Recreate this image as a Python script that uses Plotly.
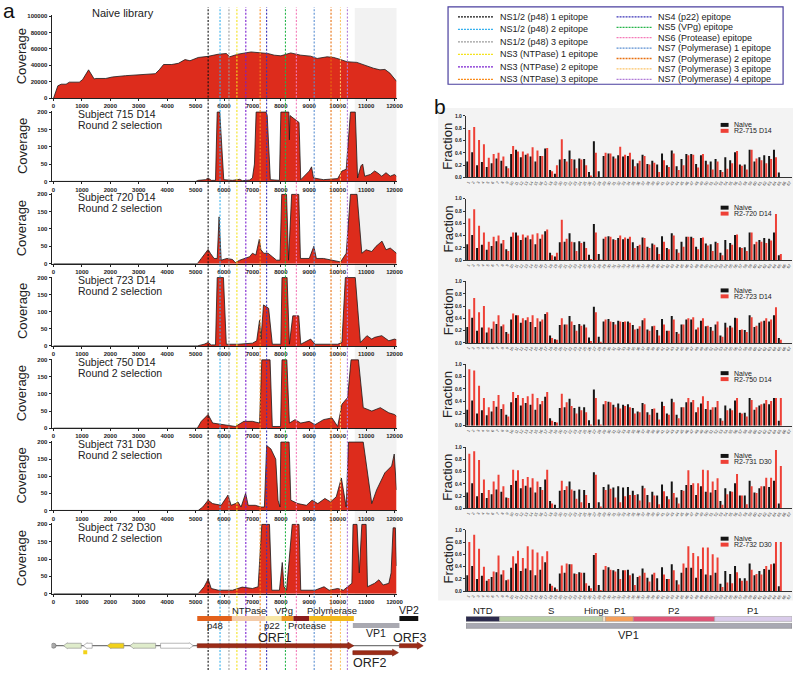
import plotly.graph_objects as go

W, H = 800, 673


def fx(p):
    return p / W


def fy(p):
    return 1 - p / H


# ---------------- Panel a : coverage data ----------------
naive_lib_pos = [0, 151, 267, 442, 558, 907, 1023, 1140, 1233, 1430, 1488, 1837, 2070, 2535, 3116, 3581,
                 3721, 3872, 4163, 4395, 4628, 4802, 5093, 5442, 5791, 6081, 6198, 6488, 6953, 7302, 7535,
                 7767, 8000, 8349, 8698, 9047, 9279, 9628, 9860, 10093, 10326, 10674, 10907, 11256, 11488,
                 11663, 11837, 12070]
naive_lib_cov = [0, 15000, 17000, 17000, 19500, 19500, 22600, 28500, 34500, 23400, 24000, 24000, 25800,
                 27400, 29000, 29800, 34500, 41000, 41000, 42500, 47000, 45600, 49600, 51000, 53500, 54400,
                 50400, 53600, 56300, 55600, 54500, 52400, 51600, 55100, 52400, 51200, 48400, 50400, 49600,
                 47200, 44400, 43600, 40500, 36500, 34500, 35000, 30500, 20600]

s715_pos = [0, 5000, 5100, 5350, 5440, 5550, 5700, 5760, 5850, 5990, 6300, 6550, 6650, 6900, 7000, 7070,
            7130, 7480, 7520, 7630, 7950, 8000, 8280, 8300, 8320, 8640, 8700, 9000, 9080, 9150, 9500,
            10000, 10150, 10300, 10450, 10620, 10700, 10820, 10880, 10950, 11150, 11300, 11400, 11550,
            11700, 11850, 12000, 12070]
s715_cov = [0, 0, 3, 5, 10, 3, 3, 200, 200, 5, 3, 6, 2, 4, 10, 50, 200, 200, 190, 5, 3, 200, 200, 120, 190,
            170, 5, 30, 42, 10, 5, 8, 30, 35, 200, 200, 10, 45, 50, 15, 20, 30, 25, 15, 25, 15, 20, 15]

s720_pos = [0, 5060, 5200, 5330, 5440, 5520, 5650, 5760, 5826, 5900, 6100, 6300, 6400, 6550, 6750, 6900,
            7000, 7120, 7240, 7300, 7400, 7550, 7700, 7850, 7970, 8030, 8200, 8270, 8380, 8630, 8690, 9000,
            9160, 9250, 9500, 9800, 10100, 10300, 10450, 10680, 10850, 11000, 11200, 11350, 11560, 11700,
            11850, 12000, 12070]
s720_cov = [0, 0, 15, 31, 41, 30, 15, 15, 135, 10, 15, 12, 3, 10, 15, 20, 30, 25, 70, 40, 30, 30, 20, 10,
            10, 200, 200, 10, 200, 200, 15, 15, 50, 15, 15, 10, 5, 30, 200, 200, 30, 40, 35, 50, 65, 40,
            45, 35, 30]

s723_pos = [0, 5060, 5300, 5440, 5550, 5700, 5760, 5980, 6080, 6500, 7000, 7150, 7250, 7300, 7390, 7570,
            7700, 8000, 8040, 8220, 8300, 8420, 8630, 8700, 9050, 9200, 10000, 10150, 10270, 10620, 10800,
            11030, 11200, 11300, 11550, 11800, 12000, 12070]
s723_cov = [0, 0, 5, 10, 3, 3, 200, 200, 5, 5, 8, 15, 75, 20, 120, 110, 5, 5, 200, 200, 5, 88, 88, 5, 20,
            5, 5, 10, 200, 200, 10, 30, 20, 25, 30, 15, 20, 18]

s750_pos = [0, 5060, 5200, 5440, 5600, 6000, 6400, 6700, 7000, 7250, 7330, 7620, 7700, 7990, 8040, 8210,
            8300, 8500, 8700, 9000, 9200, 9500, 9800, 10000, 10150, 10350, 10470, 10730, 10900, 11200,
            11500, 11800, 12000, 12070]
s750_cov = [0, 0, 20, 40, 15, 10, 5, 20, 20, 15, 200, 200, 5, 5, 200, 200, 15, 25, 15, 20, 10, 25, 30, 5,
            70, 90, 200, 200, 60, 50, 60, 45, 40, 35]

s731_pos = [0, 5090, 5250, 5440, 5600, 5900, 6140, 6250, 6400, 6490, 6600, 6760, 6850, 7100, 7300, 7420,
            7500, 7650, 7820, 7900, 7970, 8000, 8290, 8350, 8600, 8900, 9100, 9300, 9550, 9750, 9950,
            10130, 10300, 10380, 10900, 11200, 11370, 11490, 11660, 11900, 11990, 12070]
s731_cov = [0, 0, 10, 30, 20, 15, 45, 15, 20, 25, 10, 50, 15, 15, 10, 10, 190, 180, 150, 30, 10, 200, 200,
            30, 20, 15, 30, 20, 35, 25, 40, 95, 10, 200, 200, 20, 60, 80, 110, 130, 165, 60]

s732_pos = [0, 5090, 5300, 5440, 5550, 5800, 6300, 6640, 7000, 7200, 7330, 7600, 7680, 7950, 8050, 8110,
            8200, 8400, 8640, 8700, 9200, 9520, 9700, 10000, 10200, 10500, 10540, 10680, 10760, 10850,
            11000, 11050, 11300, 11450, 11600, 11800, 11880, 11950, 12030, 12070]
s732_cov = [0, 0, 20, 42, 15, 10, 10, 19, 15, 20, 200, 200, 10, 10, 90, 20, 10, 200, 200, 10, 10, 20, 10,
            15, 10, 30, 200, 200, 60, 200, 200, 20, 30, 40, 25, 30, 60, 190, 190, 80]

subject_titles = ["Subject 715 D14", "Subject 720 D14", "Subject 723 D14",
                  "Subject 750 D14", "Subject 731 D30", "Subject 732 D30"]
round_label = "Round 2 selection"
naive_title = "Naive library"
cov_ticks_naive = [0, 20000, 40000, 60000, 80000, 100000]
cov_ticks_subj = [0, 50, 100, 150, 200]
genome_ticks = [0, 1000, 2000, 3000, 4000, 5000, 6000, 7000, 8000, 9000, 10000, 11000, 12000]

epitope_names = ["NS1/2 (p48) 1 epitope", "NS1/2 (p48) 2 epitope", "NS1/2 (p48) 3 epitope",
                 "NS3 (NTPase) 1 epitope", "NS3 (NTPase) 2 epitope", "NS3 (NTPase) 3 epitope",
                 "NS4 (p22) epitope", "NS5 (VPg) epitope", "NS6 (Protease) epitope",
                 "NS7 (Polymerase) 1 epitope", "NS7 (Polymerase) 2 epitope",
                 "NS7 (Polymerase) 3 epitope", "NS7 (Polymerase) 4 epitope"]
epitope_pos = [5441, 5860, 6174, 6453, 6767, 7272, 7499, 8162, 8546, 9173, 9766, 10098, 10342]
epitope_colors = ["#111111", "#34b0ee", "#9c9c9c", "#f4e21c", "#7a1fd0", "#fa8a18", "#3b33b8",
                  "#25b54a", "#f57ab8", "#5a8fd2", "#e8700f", "#fcc468", "#b07ad8"]

# genome organisation (nt)
domain_names = ["p48", "NTPase", "p22", "VPg", "Protease", "Polymerase"]
domain_start = [5058, 6278, 7464, 8022, 8441, 8999]
domain_end = [6278, 7464, 8022, 8441, 8999, 10568]
domain_colors = ["#e3611c", "#f4cba8", "#f8e7a6", "#ef9a22", "#8a1c1c", "#f3b91c"]
vp_names = ["VP1", "VP2"]
vp_start = [10534, 12173]
vp_end = [12173, 12836]
vp_colors = ["#a9a9b1", "#111111"]
orf_names = ["ORF1", "ORF2", "ORF3"]
orf_start = [5058, 10534, 12173]
orf_end = [10568, 12138, 13010]
vector_feat_start = [349, 1046, 1884, 2686, 3767]
vector_feat_end = [977, 1360, 2476, 3593, 4918]
vector_feat_dir = [-1, -1, -1, -1, 1]
vector_feat_colors = ["#dfeccb", "#ffffff", "#f2d21a", "#dfeccb", "#ffffff"]

# ---------------- Panel b : fraction data ----------------
peptide_labels = [str(i) for i in range(1, 68)]
naive_frac = [0.26, 0.41, 0.20, 0.25, 0.17, 0.23, 0.31, 0.27, 0.18, 0.38,
              0.45, 0.33, 0.37, 0.34, 0.26, 0.35, 0.47, 0.12, 0.06, 0.29,
              0.30, 0.44, 0.29, 0.31, 0.30, 0.09, 0.59, 0.10, 0.35, 0.39,
              0.34, 0.36, 0.34, 0.35, 0.29, 0.23, 0.37, 0.22, 0.27, 0.21,
              0.39, 0.20, 0.44, 0.18, 0.30, 0.38, 0.38, 0.22, 0.36, 0.27,
              0.26, 0.30, 0.12, 0.33, 0.28, 0.41, 0.21, 0.21, 0.45, 0.26,
              0.33, 0.36, 0.35, 0.45, 0.08, None, None]
r715 = [0.77, 0.82, 0.61, 0.54, 0.32, 0.38, 0.40, 0.34, 0.15, 0.51,
        0.42, 0.42, 0.39, 0.49, 0.44, 0.35, 0.48, 0.10, 0.20, 0.62,
        0.26, 0.30, 0.15, 0.29, 0.20, 0.03, 0.40, 0.00, 0.40, 0.39,
        0.31, 0.50, 0.37, 0.40, 0.18, 0.27, 0.35, 0.21, 0.24, 0.09,
        0.28, 0.17, 0.39, 0.12, 0.20, 0.36, 0.37, 0.16, 0.38, 0.21,
        0.13, 0.26, 0.09, 0.14, 0.23, 0.43, 0.19, 0.13, 0.45, 0.31,
        0.28, 0.23, 0.30, 0.33, 0.00, None, None]
r720 = [0.68, 0.83, 0.56, 0.45, 0.30, 0.38, 0.40, 0.33, 0.15, 0.45,
        0.40, 0.42, 0.40, 0.42, 0.44, 0.42, 0.50, 0.08, 0.12, 0.66,
        0.35, 0.30, 0.15, 0.28, 0.20, 0.02, 0.45, 0.01, 0.38, 0.38,
        0.33, 0.40, 0.37, 0.38, 0.20, 0.25, 0.36, 0.20, 0.25, 0.10,
        0.30, 0.18, 0.40, 0.12, 0.22, 0.38, 0.36, 0.18, 0.37, 0.24,
        0.15, 0.28, 0.08, 0.18, 0.25, 0.42, 0.20, 0.15, 0.45, 0.30,
        0.30, 0.28, 0.32, 0.75, 0.10, None, None]
r723 = [0.55, 0.73, 0.50, 0.60, 0.25, 0.35, 0.45, 0.30, 0.15, 0.48,
        0.45, 0.40, 0.42, 0.45, 0.40, 0.38, 0.50, 0.08, 0.05, 0.40,
        0.30, 0.35, 0.20, 0.28, 0.25, 0.03, 0.50, 0.02, 0.38, 0.35,
        0.30, 0.35, 0.35, 0.33, 0.22, 0.27, 0.40, 0.20, 0.28, 0.12,
        0.30, 0.20, 0.38, 0.15, 0.30, 0.40, 0.42, 0.25, 0.40, 0.28,
        0.20, 0.35, 0.10, 0.25, 0.25, 0.40, 0.22, 0.18, 0.42, 0.28,
        0.35, 0.40, 0.38, 0.58, 0.05, None, None]
r750 = [0.92, 0.90, 0.65, 0.45, 0.30, 0.40, 0.50, 0.35, 0.15, 0.55,
        0.50, 0.45, 0.48, 0.52, 0.45, 0.40, 0.55, 0.08, 0.05, 0.52,
        0.38, 0.32, 0.20, 0.25, 0.22, 0.02, 0.45, 0.02, 0.40, 0.38,
        0.30, 0.28, 0.32, 0.30, 0.20, 0.22, 0.35, 0.18, 0.28, 0.10,
        0.32, 0.18, 0.38, 0.12, 0.30, 0.45, 0.42, 0.30, 0.48, 0.40,
        0.30, 0.40, 0.08, 0.25, 0.25, 0.45, 0.20, 0.15, 0.42, 0.30,
        0.35, 0.42, 0.40, 0.45, 0.45, None, None]
r731 = [0.89, 0.93, 0.79, 0.47, 0.30, 0.44, 0.55, 0.36, 0.17, 0.63,
        0.62, 0.48, 0.51, 0.49, 0.44, 0.30, 0.63, 0.08, 0.00, 0.45,
        0.36, 0.31, 0.16, 0.10, 0.22, 0.00, 0.55, 0.03, 0.30, 0.32,
        0.18, 0.10, 0.20, 0.22, 0.22, 0.13, 0.33, 0.10, 0.21, 0.07,
        0.28, 0.15, 0.25, 0.08, 0.29, 0.62, 0.41, 0.41, 0.63, 0.62,
        0.44, 0.49, 0.06, 0.23, 0.27, 0.56, 0.21, 0.07, 0.36, 0.25,
        0.36, 0.50, 0.50, 0.95, 0.69, None, None]
r732 = [0.80, 0.92, 0.69, 0.40, 0.20, 0.32, 0.58, 0.34, 0.19, 0.57,
        0.66, 0.54, 0.73, 0.68, 0.63, 0.57, 0.65, 0.09, 0.03, 0.42,
        0.45, 0.44, 0.28, 0.30, 0.13, 0.05, 0.62, 0.02, 0.41, 0.35,
        0.32, 0.20, 0.34, 0.26, 0.10, 0.25, 0.30, 0.16, 0.30, 0.02,
        0.27, 0.20, 0.34, 0.11, 0.45, 0.73, 0.62, 0.57, 0.71, 0.71,
        0.60, 0.55, 0.07, 0.14, 0.13, 0.31, 0.17, 0.17, 0.35, 0.28,
        0.27, 0.41, 0.44, 0.80, 0.80, None, None]
sample_names = ["R2-715 D14", "R2-720 D14", "R2-723 D14", "R2-750 D14", "R2-731 D30", "R2-732 D30"]
frac_ticks = [0.0, 0.2, 0.4, 0.6, 0.8, 1.0]

vp1_domain_names = ["NTD", "S", "Hinge", "P1", "P2", "P1"]
vp1_domain_start = [-0.5, 6.42, 27.6, 28.2, 33.9, 50.6]
vp1_domain_end = [6.42, 27.6, 28.2, 33.9, 50.6, 66.5]
vp1_domain_colors = ["#2b2a4c", "#b9cfa6", "#f6e2c4", "#f5a05c", "#df5577", "#d9cbea"]

# ---------------- Figure ----------------
FONT = "Arial, Liberation Sans, sans-serif"
fig = go.Figure()
layout = dict(width=W, height=H, margin=dict(l=0, r=0, t=0, b=0, pad=0), showlegend=False,
              paper_bgcolor="white", plot_bgcolor="rgba(0,0,0,0)",
              bargap=0.18, bargroupgap=0.0, font=dict(family=FONT, color="#222"))
shapes = []
ann = []


def note(text, x, y, xref="paper", size=10, xanchor="center", angle=0, color="#222"):
    ann.append(dict(text=text, x=x, y=y, xref=xref, yref="paper", xanchor=xanchor, yanchor="middle",
                    textangle=angle, showarrow=False, font=dict(size=size, family=FONT, color=color)))


XA_L, XA_R = 52, 400
XR = [-70, 12070]
NT_PX = (XA_R - XA_L) / (XR[1] - XR[0])

rows_a = [(12, 96), (109, 180), (192, 263), (276, 346), (359, 429), (442, 512), (525, 596)]
series_a = [(naive_lib_pos, naive_lib_cov), (s715_pos, s715_cov), (s720_pos, s720_cov),
            (s723_pos, s723_cov), (s750_pos, s750_cov), (s731_pos, s731_cov), (s732_pos, s732_cov)]
tickfont_a = dict(size=6, family=FONT, color="#222", weight="bold")

for i, ((top, bot), (xs, ys)) in enumerate(zip(rows_a, series_a)):
    n = i + 1
    sx = "" if n == 1 else str(n)
    fig.add_trace(go.Scatter(x=xs, y=ys, mode="lines", fill="tozeroy", fillcolor="#dd2c1c",
                             line=dict(color="#1a1a1a", width=0.8), xaxis="x" + sx, yaxis="y" + sx,
                             hoverinfo="skip"))
    layout["xaxis" + sx] = dict(domain=[fx(XA_L), fx(XA_R)], range=XR, anchor="y" + sx,
                                showline=True, linecolor="#222", linewidth=1, ticks="outside",
                                ticklen=2, tickwidth=1, tickcolor="#222", tickmode="array",
                                tickvals=genome_ticks, ticktext=[str(t) for t in genome_ticks],
                                tickfont=tickfont_a, showgrid=False, zeroline=False)
    if i == 0:
        yr, yt = [0, 101500], cov_ticks_naive
    else:
        yr, yt = [0, 203], cov_ticks_subj
    layout["yaxis" + sx] = dict(domain=[fy(bot), fy(top)], range=yr, anchor="x" + sx,
                                showline=True, linecolor="#222", linewidth=1, ticks="outside",
                                ticklen=2, tickwidth=1, tickcolor="#222", tickmode="array",
                                tickvals=yt, ticktext=[str(t) for t in yt],
                                tickfont=tickfont_a, showgrid=False, zeroline=False)
    note("Coverage", fx(22), fy((top + bot) / 2), size=13, angle=-90)
    if i == 0:
        note(naive_title, fx(91), fy(10), size=11, xanchor="left")
    else:
        note(subject_titles[i - 1], fx(77), fy(top + 3.3), size=10.5, xanchor="left")
        note(round_label, fx(77), fy(top + 14.5), size=10.5, xanchor="left")

# genome-map axis (same nt scale, wider domain)
GX_R = 440
layout["xaxis14"] = dict(domain=[fx(XA_L), fx(GX_R)], range=[XR[0], XR[0] + (GX_R - XA_L) / NT_PX],
                         anchor="y14", visible=False, showgrid=False, zeroline=False)
layout["yaxis14"] = dict(domain=[0, fy(600)], range=[0, 1], anchor="x14", visible=False,
                         showgrid=False, zeroline=False)
fig.add_trace(go.Scatter(x=[], y=[], xaxis="x14", yaxis="y14", hoverinfo="skip"))

# grey region
shapes.append(dict(type="rect", xref="x14", yref="paper", x0=10600, x1=XR[1], y0=fy(597), y1=fy(5),
                   fillcolor="#f2f2f2", line=dict(width=0), layer="below"))

# epitope dashed lines
for p, c in zip(epitope_pos, epitope_colors):
    shapes.append(dict(type="line", xref="x14", yref="paper", x0=p, x1=p, y0=0, y1=fy(4),
                       line=dict(color=c, width=1.1, dash="2px,1.6px"), layer="above"))

# genome domain bars
for s, e, c in zip(domain_start, domain_end, domain_colors):
    shapes.append(dict(type="rect", xref="x14", yref="paper", x0=s, x1=e, y0=fy(623.5), y1=fy(618.5),
                       fillcolor=c, line=dict(width=0)))
shapes.append(dict(type="rect", xref="x14", yref="paper", x0=vp_start[0], x1=vp_end[0],
                   y0=fy(630.5), y1=fy(625.5), fillcolor=vp_colors[0], line=dict(width=0)))
shapes.append(dict(type="rect", xref="x14", yref="paper", x0=vp_start[1], x1=vp_end[1],
                   y0=fy(623.5), y1=fy(618.5), fillcolor=vp_colors[1], line=dict(width=0)))

label_rows = [628.5, 612.5, 628.5, 612.5, 628.5, 612.5]
label_shift_px = [0, 0, -2, -3, 6, 0]
for name, s, e, yrow, dx in zip(domain_names, domain_start, domain_end, label_rows, label_shift_px):
    note(name, (s + e) / 2 + dx / NT_PX, fy(yrow), xref="x14", size=9.5)
note(vp_names[0], (vp_start[0] + vp_end[0]) / 2, fy(635.5), xref="x14", size=10.5)
note(vp_names[1], (vp_start[1] + vp_end[1]) / 2, fy(612.5), xref="x14", size=10.5)


def arrow(x0, x1, yc, body, headh, headlen_px, direction, color, outline):
    hl = headlen_px / NT_PX
    yt, yb = fy(yc - body / 2), fy(yc + body / 2)
    ht, hb, ym = fy(yc - headh / 2), fy(yc + headh / 2), fy(yc)
    if direction > 0:
        xh = x1 - hl
        path = (f"M {x0},{yt} L {xh},{yt} L {xh},{ht} L {x1},{ym} L {xh},{hb} "
                f"L {xh},{yb} L {x0},{yb} Z")
    else:
        xh = x0 + hl
        path = (f"M {x1},{yt} L {xh},{yt} L {xh},{ht} L {x0},{ym} L {xh},{hb} "
                f"L {xh},{yb} L {x1},{yb} Z")
    return dict(type="path", xref="x14", yref="paper", path=path, fillcolor=color,
                line=dict(color=outline, width=0.6))


# backbone line
shapes.append(dict(type="line", xref="x14", yref="paper", x0=0, x1=orf_start[2], y0=fy(648.5),
                   y1=fy(648.5), line=dict(color="#555", width=1)))
shapes.append(dict(type="circle", xref="x14", yref="paper", x0=-90, x1=90, y0=fy(651), y1=fy(646),
                   fillcolor="#aaaaaa", line=dict(color="#666", width=0.6)))
for s, e, d, c in zip(vector_feat_start, vector_feat_end, vector_feat_dir, vector_feat_colors):
    shapes.append(arrow(s, e, 648.5, 5, 6, 4, d, c, "#8a8a8a"))
shapes.append(dict(type="rect", xref="x14", yref="paper", x0=1046, x1=1186, y0=fy(657), y1=fy(653),
                   fillcolor="#f2d21a", line=dict(width=0)))
orf_rows = [648.5, 655.5, 648.5]
for s, e, yrow in zip(orf_start, orf_end, orf_rows):
    shapes.append(arrow(s, e, yrow, 4, 7, 6, 1, "#9c2c17", "#7a1f10"))
orf_label_x = [7778, 11127, 12522]
orf_label_y = [641, 666, 641]
for name, xp, yrow in zip(orf_names, orf_label_x, orf_label_y):
    note(name, xp, fy(yrow), xref="x14", size=12.5)

# epitope legend
shapes.append(dict(type="rect", xref="paper", yref="paper", x0=fx(452), x1=fx(790), y0=fy(82),
                   y1=fy(4), line=dict(color="#4a3f9e", width=1.2), fillcolor="white"))
for k, (name, c) in enumerate(zip(epitope_names, epitope_colors)):
    if k < 6:
        lx0, ty = 462, 14 + k * 12.6
    else:
        lx0, ty = 622, 14 + (k - 6) * 10.5
    shapes.append(dict(type="line", xref="paper", yref="paper", x0=fx(lx0), x1=fx(lx0 + 36),
                       y0=fy(ty), y1=fy(ty), line=dict(color=c, width=1.3, dash="2px,1px")))
    note(name, fx(lx0 + 40), fy(ty), size=9, xanchor="left")

# ---------------- Panel b ----------------
shapes.append(dict(type="rect", xref="paper", yref="paper", x0=fx(442), x1=fx(800), y0=fy(603),
                   y1=fy(106), fillcolor="#f3f3f3", line=dict(width=0), layer="below"))
XB_L, XB_R = 470, 799
tops_b = [114, 197.5, 281, 364.5, 448, 531.5]
reds = [r715, r720, r723, r750, r731, r732]
tickfont_b = dict(size=5, family=FONT, color="#222", weight="bold")
for j, (top, red, nm) in enumerate(zip(tops_b, reds, sample_names)):
    n = 8 + j
    bot = top + 62
    fig.add_trace(go.Bar(x=peptide_labels, y=naive_frac, marker=dict(color="#141414", line=dict(width=0)),
                         xaxis=f"x{n}", yaxis=f"y{n}", hoverinfo="skip"))
    fig.add_trace(go.Bar(x=peptide_labels, y=red, marker=dict(color="#ee4036", line=dict(width=0)),
                         xaxis=f"x{n}", yaxis=f"y{n}", hoverinfo="skip"))
    layout[f"xaxis{n}"] = dict(domain=[fx(XB_L), fx(XB_R)], anchor=f"y{n}", type="category",
                               range=[-0.5, len(peptide_labels) - 0.5], showline=True,
                               linecolor="#333", linewidth=1, ticks="", tickmode="array",
                               tickvals=peptide_labels, ticktext=peptide_labels, tickangle=-60,
                               tickfont=dict(size=4, family=FONT, color="#333"), showgrid=False,
                               zeroline=False)
    layout[f"yaxis{n}"] = dict(domain=[fy(bot), fy(top)], anchor=f"x{n}", range=[0, 1.0],
                               showline=True, linecolor="#333", linewidth=1, ticks="outside",
                               ticklen=2, tickcolor="#333", tickmode="array", tickvals=frac_ticks,
                               ticktext=[f"{t:.1f}" for t in frac_ticks],
                               tickfont=tickfont_b, showgrid=False, zeroline=False)
    note("Fraction", fx(452), fy(top + 31), size=13, angle=-90)
    # mini legend
    shapes.append(dict(type="rect", xref="paper", yref="paper", x0=fx(727), x1=fx(735),
                       y0=fy(top + 11), y1=fy(top + 7), fillcolor="#141414", line=dict(width=0)))
    shapes.append(dict(type="rect", xref="paper", yref="paper", x0=fx(727), x1=fx(735),
                       y0=fy(top + 17), y1=fy(top + 13), fillcolor="#ee4036", line=dict(width=0)))
    note("Naive", fx(738), fy(top + 9), size=7, xanchor="left")
    note(nm, fx(738), fy(top + 15), size=7, xanchor="left")

# VP1 domain bar under panel b
BAR_PX = (XB_R - XB_L) / len(peptide_labels)
vp1_label_shift_px = [0, 0, -8, 1, 0, 0]
for name, s, e, c, dx in zip(vp1_domain_names, vp1_domain_start, vp1_domain_end, vp1_domain_colors,
                             vp1_label_shift_px):
    shapes.append(dict(type="rect", xref="x8", yref="paper", x0=s, x1=e, y0=fy(624), y1=fy(619),
                       fillcolor=c, line=dict(color="#999", width=0.5)))
    note(name, (s + e) / 2 + dx / BAR_PX, fy(613), xref="x8", size=9.5)
shapes.append(dict(type="rect", xref="x8", yref="paper", x0=vp1_domain_start[0],
                   x1=vp1_domain_end[-1], y0=fy(631), y1=fy(626), fillcolor="#a9a9b3",
                   line=dict(color="#777", width=0.5)))
note("VP1", (vp1_domain_start[0] + vp1_domain_end[-1]) / 2, fy(637.5), xref="x8", size=11)

# panel letters
note("a", fx(1), fy(8), size=21, xanchor="left", color="#111")
note("b", fx(436), fy(104), size=21, xanchor="left", color="#111")

layout["shapes"] = shapes
layout["annotations"] = ann
fig.update_layout(**layout)
fig.write_html("out.html", config={"displayModeBar": False, "staticPlot": True},
               post_script="document.body.style.margin='0px';"
                           "document.body.style.overflow='hidden';")
